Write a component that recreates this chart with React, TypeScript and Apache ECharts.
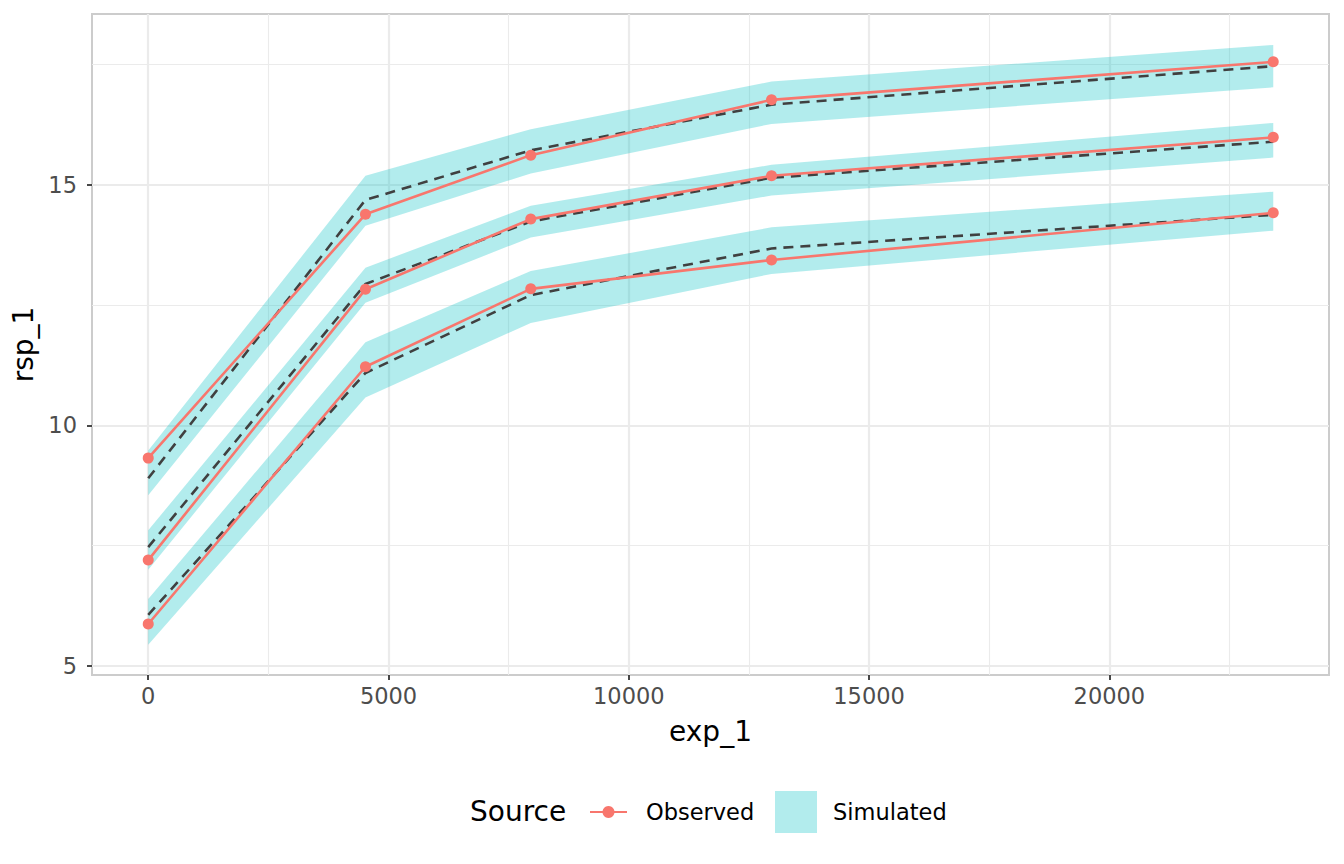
import React, { useEffect, useRef } from 'react';
import * as echarts from 'echarts';

// exposure values (x)
const expValues = [0, 4520, 7960, 12970, 23410];

// observed response, three dose groups (low / mid / high)
const obsLow = [5.87, 11.22, 12.84, 13.44, 14.42];
const obsMid = [7.2, 12.83, 14.29, 15.19, 15.99];
const obsHigh = [9.32, 14.39, 15.62, 16.77, 17.56];

// simulated median (dashed)
const medLow = [6.06, 11.09, 12.71, 13.68, 14.38];
const medMid = [7.47, 12.94, 14.24, 15.15, 15.9];
const medHigh = [8.9, 14.69, 15.72, 16.67, 17.47];

// simulated interval (ribbon)
const loLow = [5.44, 10.58, 12.13, 13.15, 14.05];
const hiLow = [6.39, 11.73, 13.21, 14.12, 14.86];
const loMid = [7.0, 12.55, 13.91, 14.78, 15.57];
const hiMid = [7.82, 13.28, 14.57, 15.42, 16.29];
const loHigh = [8.55, 14.15, 15.24, 16.27, 17.03];
const hiHigh = [9.48, 15.19, 16.16, 17.15, 17.91];

// axis breaks
const xBreaks = [0, 5000, 10000, 15000, 20000];
const xMinorBreaks = [2500, 7500, 12500, 17500, 22500];
const yBreaks = [5, 10, 15];
const yMinorBreaks = [7.5, 12.5, 17.5];

const FONT = 'DejaVu Sans';
const OBS_COLOR = '#F8766D';
const SIM_FILL = 'rgba(0,191,196,0.3)';

const ribbon = (lo: number[], hi: number[]) => ({
    name: 'Simulated',
    type: 'custom',
    silent: true,
    itemStyle: { color: SIM_FILL },
    encode: { x: 0, y: [1, 2] },
    data: expValues.map((x, i) => [x, lo[i], hi[i]]),
    renderItem: (params: any, api: any) => {
        if (params.dataIndex !== 0) return { type: 'group', children: [] };
        const upper = expValues.map((x, i) => api.coord([x, hi[i]]));
        const lower = expValues.map((x, i) => api.coord([x, lo[i]])).reverse();
        return {
            type: 'polygon',
            shape: { points: [...upper, ...lower] },
            style: { fill: SIM_FILL },
        };
    },
});

const median = (vals: number[]) => ({
    name: 'Median',
    type: 'line',
    silent: true,
    symbol: 'none',
    lineStyle: { color: '#404040', width: 2.6, type: [10, 7] },
    data: expValues.map((x, i) => [x, vals[i]]),
});

const observed = (vals: number[]) => ({
    name: 'Observed',
    type: 'line',
    silent: true,
    symbol: 'circle',
    symbolSize: 11,
    itemStyle: { color: OBS_COLOR },
    lineStyle: { color: OBS_COLOR, width: 2.6 },
    data: expValues.map((x, i) => [x, vals[i]]),
});

const App: React.FC = () => {
    const chartRef = useRef<HTMLDivElement>(null);

    useEffect(() => {
        document.body.style.margin = '0';
        if (!chartRef.current) return;
        const chart = echarts.init(chartRef.current, undefined, { renderer: 'svg' });

        const tickLabel = {
            fontFamily: FONT,
            fontSize: 22.5,
            color: '#4d4d4d',
            formatter: (v: number) => String(v),
        };

        const options = {
            animation: false,
            backgroundColor: '#ffffff',
            textStyle: { fontFamily: FONT },
            grid: {
                left: 92,
                right: 15,
                top: 14,
                bottom: 189,
                show: true,
                borderColor: '#cccccc',
                borderWidth: 2,
                backgroundColor: '#ffffff',
            },
            xAxis: [
                {
                    type: 'value',
                    min: -1170,
                    max: 24570,
                    name: 'exp_1',
                    nameLocation: 'middle',
                    nameGap: 42,
                    nameTextStyle: { fontFamily: FONT, fontSize: 28, color: '#000' },
                    axisLine: { show: false, onZero: false },
                    axisTick: {
                        show: true,
                        length: 5,
                        customValues: xBreaks,
                        lineStyle: { color: '#333333', width: 1.8 },
                    },
                    axisLabel: { ...tickLabel, margin: 9, customValues: xBreaks },
                    splitLine: { show: true, lineStyle: { color: '#ebebeb', width: 2.2 } },
                },
                {
                    type: 'value',
                    min: -1170,
                    max: 24570,
                    position: 'top',
                    axisLine: { show: false, onZero: false },
                    axisTick: { show: false, customValues: xMinorBreaks },
                    axisLabel: { show: false, customValues: xMinorBreaks },
                    splitLine: { show: true, lineStyle: { color: '#ebebeb', width: 1.1 } },
                },
            ],
            yAxis: [
                {
                    type: 'value',
                    min: 4.81,
                    max: 18.555,
                    name: 'rsp_1',
                    nameLocation: 'middle',
                    nameGap: 47,
                    nameTextStyle: { fontFamily: FONT, fontSize: 28, color: '#000' },
                    axisLine: { show: false, onZero: false },
                    axisTick: {
                        show: true,
                        length: 5,
                        customValues: yBreaks,
                        lineStyle: { color: '#333333', width: 1.8 },
                    },
                    axisLabel: { ...tickLabel, margin: 15, customValues: yBreaks },
                    splitLine: { show: true, lineStyle: { color: '#ebebeb', width: 2.2 } },
                },
                {
                    type: 'value',
                    min: 4.81,
                    max: 18.555,
                    position: 'right',
                    axisLine: { show: false, onZero: false },
                    axisTick: { show: false, customValues: yMinorBreaks },
                    axisLabel: { show: false, customValues: yMinorBreaks },
                    splitLine: { show: true, lineStyle: { color: '#ebebeb', width: 1.1 } },
                },
            ],
            legend: [
                {
                    data: ['Observed'],
                    left: 589,
                    top: 799,
                    padding: 0,
                    itemWidth: 37,
                    itemHeight: 15,
                    selectedMode: false,
                    textStyle: {
                        fontFamily: FONT,
                        fontSize: 22.5,
                        color: '#000',
                        lineHeight: 26,
                        padding: [0, 0, 0, 14],
                    },
                },
                {
                    data: [{ name: 'Simulated', icon: 'rect' }],
                    left: 775,
                    top: 791,
                    padding: 0,
                    itemWidth: 42,
                    itemHeight: 42,
                    selectedMode: false,
                    itemStyle: { color: SIM_FILL },
                    textStyle: {
                        fontFamily: FONT,
                        fontSize: 22.5,
                        color: '#000',
                        lineHeight: 26,
                        padding: [0, 0, 0, 11],
                    },
                },
            ],
            graphic: [
                {
                    type: 'text',
                    left: 470,
                    top: 797,
                    style: { text: 'Source', fontFamily: FONT, fontSize: 28, fill: '#000' },
                },
            ],
            series: [
                ribbon(loLow, hiLow),
                ribbon(loMid, hiMid),
                ribbon(loHigh, hiHigh),
                median(medLow),
                median(medMid),
                median(medHigh),
                observed(obsLow),
                observed(obsMid),
                observed(obsHigh),
            ],
        };

        chart.setOption(options);

        return () => {
            chart.dispose();
        };
    }, []);

    return <div ref={chartRef} style={{ width: '1344px', height: '864px' }} />;
};

export default App;
